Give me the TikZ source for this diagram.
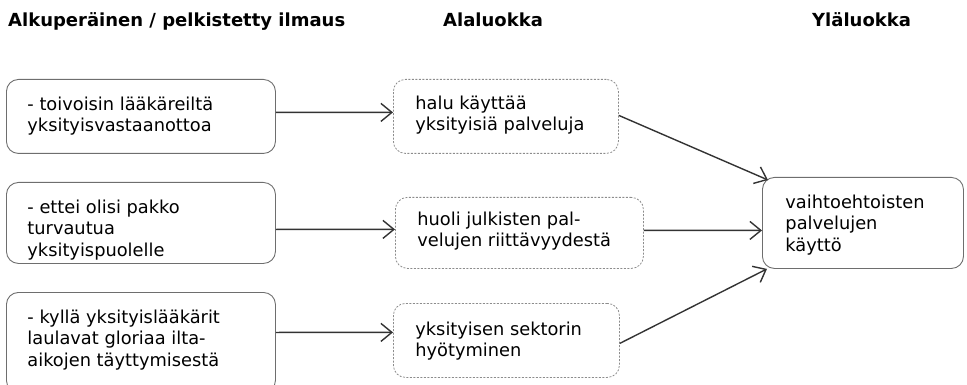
\documentclass[tikz,border=0pt]{standalone}
\usepackage{fontspec}
\setmainfont{DejaVu Sans}
\usetikzlibrary{arrows.meta}
\definecolor{boxedge}{HTML}{6E6E6E}
\definecolor{dashedge}{HTML}{8C8C8C}
\definecolor{conn}{HTML}{333333}
% width, height, offset of the first baseline, text
\newcommand{\boxtext}[4]{\parbox[c][#2][t]{#1}{\raggedright\rule{0pt}{#3}#4}}
\tikzset{
  heading/.style={font=\bfseries\fontsize{18pt}{22pt}\selectfont, inner sep=0pt, anchor=base west},
  basebox/.style={rounded corners=12pt, anchor=north west, inner ysep=0pt,
    font=\fontsize{17.8pt}{21.3pt}\selectfont},
  solidbox/.style={basebox, draw=boxedge, line width=0.9pt},
  dashbox/.style={basebox, draw=dashedge, line width=0.8pt, dash pattern=on 2pt off 1.5pt},
  conn/.style={draw=conn, line width=1.4pt, -{Straight Barb[length=11pt,width=18pt,line width=1.4pt]}}
}
\begin{document}
\begin{tikzpicture}[x=1pt,y=-1pt]
\useasboundingbox (0,0) rectangle (967,385);
\clip (0,0) rectangle (967,385);

% column headings
\node[heading] (h1) at (8,27) {Alkuperäinen / pelkistetty ilmaus};
\node[heading] (h2) at (443,27) {Alaluokka};
\node[heading] (h3) at (812,27) {Yläluokka};

% original / reduced expressions
\node[solidbox, inner xsep=21pt] (l1) at (6,79)
  {\boxtext{227pt}{74pt}{31pt}{- toivoisin lääkäreiltä\\yksityisvastaanottoa}};
\node[solidbox, inner xsep=21pt] (l2) at (6,182)
  {\boxtext{227pt}{81pt}{31pt}{- ettei olisi pakko\\turvautua\\yksityispuolelle}};
\node[solidbox, inner xsep=21pt] (l3) at (6,292)
  {\boxtext{227pt}{100pt}{31pt}{- kyllä yksityislääkärit\\laulavat gloriaa ilta-\\aikojen täyttymisestä}};

% subcategories
\node[dashbox, inner xsep=22pt] (m1) at (393,79)
  {\boxtext{181pt}{74pt}{30pt}{halu käyttää\\yksityisiä palveluja}};
\node[dashbox, inner xsep=22pt] (m2) at (395,197)
  {\boxtext{204pt}{71pt}{28pt}{huoli julkisten pal-\\velujen riittävyydestä}};
\node[dashbox, inner xsep=22pt] (m3) at (393,303)
  {\boxtext{182pt}{74pt}{32pt}{yksityisen sektorin\\hyötyminen}};

% main category
\node[solidbox, inner xsep=23pt] (r) at (762,177)
  {\boxtext{155pt}{91pt}{31pt}{vaihtoehtoisten\\palvelujen\\käyttö}};

% connectors
\draw[conn] ([yshift=4pt]l1.east) -- ([yshift=4pt]m1.west);
\draw[conn] ([yshift=-6.5pt]l2.east) -- ([yshift=3.5pt]m2.west);
\draw[conn] ([yshift=10pt]l3.east) -- ([yshift=8pt]m3.west);
\draw[conn] ([yshift=1pt]m1.east) -- ([xshift=6pt,yshift=-3pt]r.north west);
\draw[conn] ([yshift=2.5pt]m2.east) -- ([yshift=-7.5pt]r.west);
\draw[conn] ([yshift=-3pt]m3.east) -- ([xshift=5pt]r.south west);
\end{tikzpicture}
\end{document}
